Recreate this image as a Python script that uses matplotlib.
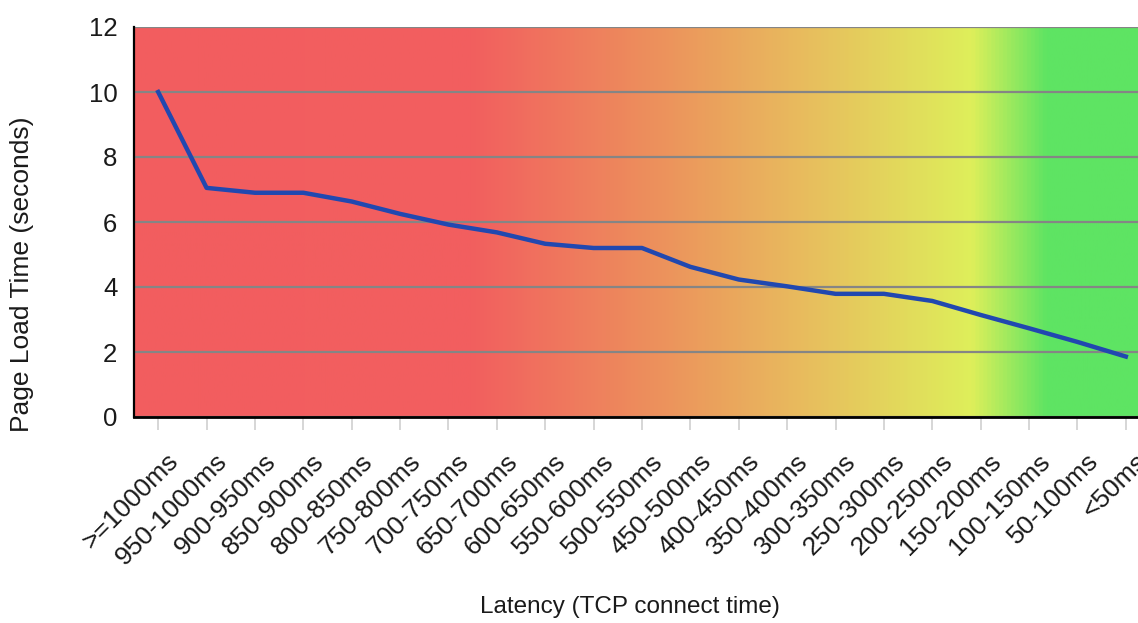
import numpy as np
import matplotlib
matplotlib.use('Agg')
import matplotlib.pyplot as plt
from matplotlib.colors import LinearSegmentedColormap
from matplotlib.transforms import ScaledTranslation

plt.rcParams['font.family'] = ['Liberation Sans', 'DejaVu Sans']

# latency buckets, slowest first
buckets = ['>=1000ms', '950-1000ms', '900-950ms', '850-900ms', '800-850ms',
           '750-800ms', '700-750ms', '650-700ms', '600-650ms', '550-600ms',
           '500-550ms', '450-500ms', '400-450ms', '350-400ms', '300-350ms',
           '250-300ms', '200-250ms', '150-200ms', '100-150ms', '50-100ms',
           '<50ms']
load_time = [10.0, 7.05, 6.9, 6.9, 6.63, 6.25, 5.92, 5.68, 5.33, 5.2,
             5.2, 4.62, 4.23, 4.02, 3.79, 3.79, 3.57, 3.14, 2.73, 2.31,
             1.86]
y_ticks = [0, 2, 4, 6, 8, 10, 12]

W, H = 1138, 623
fig = plt.figure(figsize=(W / 100, H / 100), dpi=100)
# axes runs a little past the right edge, like the cropped original
ax = fig.add_axes([134 / W, (H - 417) / H, 1016 / W, 390 / H])

# red -> orange -> yellow -> green background
bg = LinearSegmentedColormap.from_list('bg', [
    (0.0, '#f25d5f'),
    (0.333, '#f25f5f'),
    (0.53, '#ec955c'),
    (0.66, '#e8bc5e'),
    (0.826, '#deef5a'),
    (0.9, '#5ee463'),
    (1.0, '#5ee463'),
])
xmin, xmax = -0.5, len(buckets) - 0.5
ax.imshow(np.linspace(0, 1, 512).reshape(1, -1), cmap=bg, aspect='auto',
          extent=(xmin, xmax, 0, 12), zorder=0)

ax.set_xlim(xmin, xmax)
ax.set_ylim(0, 12)
ax.set_yticks(y_ticks)
ax.yaxis.grid(True, color='#858585', linewidth=1.6)
ax.set_axisbelow(False)
for g in ax.get_ygridlines():
    g.set_zorder(1)

x = np.arange(len(buckets))
ax.plot(x, load_time, color='#2148b0', linewidth=3.2, zorder=3,
        solid_joinstyle='round')

ax.set_xticks(x)
ax.set_xticklabels(buckets, rotation=45, ha='right', va='center',
                   rotation_mode='anchor', fontsize=19, color='#1a1a1a')
ax.tick_params(axis='x', length=9, width=1.2, color='#d0d0d0', pad=0)
ax.tick_params(axis='y', length=0, pad=12, labelsize=18.5,
               labelcolor='#1a1a1a')
# labels sit a bit right of and below their ticks
shift = ScaledTranslation(0.17, -0.28, fig.dpi_scale_trans)
for lab in ax.get_xticklabels():
    lab.set_transform(lab.get_transform() + shift)

ax.spines['top'].set_visible(False)
ax.spines['right'].set_visible(False)
ax.spines['left'].set_linewidth(1.6)
ax.spines['bottom'].set_linewidth(2.0)
ax.spines['left'].set_zorder(4)
ax.spines['bottom'].set_zorder(4)

fig.text(630 / W, 1 - 607 / H, 'Latency (TCP connect time)', fontsize=17.5,
         ha='center', va='center', color='#1a1a1a')
fig.text(22 / W, 1 - 274 / H, 'Page Load Time (seconds)', fontsize=19,
         rotation=90, ha='center', va='center', color='#1a1a1a')

fig.savefig('out.png', dpi=100)
